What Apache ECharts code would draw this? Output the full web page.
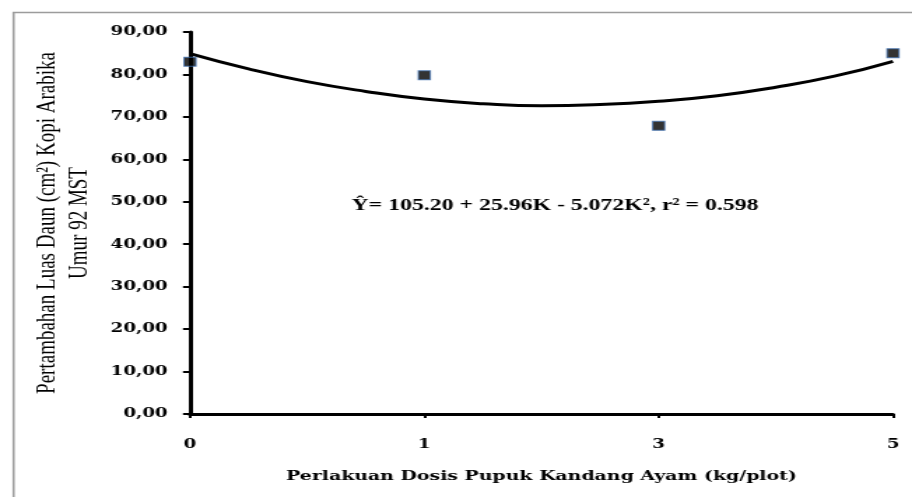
<!DOCTYPE html>
<html>
<head>
<meta charset="utf-8">
<script src="https://cdn.jsdelivr.net/npm/echarts@6.0.0/dist/echarts.min.js"></script>
<style>
  html, body { margin: 0; padding: 0; background: #fff; overflow: hidden; }
  /* the source picture is stretched sideways, so the chart is drawn narrow and widened */
  #main { width: 652px; height: 497px; transform: scaleX(1.3988); transform-origin: 0 0; }
</style>
</head>
<body>
<div id="main"></div>
<script>
// dosis pupuk (kg/plot), evenly spaced on the axis
var doses = ['0', '1', '3', '5'];
// observed leaf area increase
var observed = [83.0, 79.8, 67.9, 85.0];
// quadratic trend line (x = position index of dose)
var trendX = [0, 0.25, 0.5, 0.75, 1.0, 1.25, 1.5, 1.75, 2.0, 2.25, 2.5, 2.75, 3.0];
var trendY = [84.9, 81.3, 78.3, 76.0, 74.2, 73.1, 72.6, 72.9, 73.7, 75.0, 77.0, 79.6, 83.1];
var yTicks = [0, 90, 10]; // min, max, step
var equation = 'Ŷ= 105.20 + 25.96K - 5.072K², r² = 0.598';

var chart = echarts.init(document.getElementById('main'));

var pts = [];
for (var i = 0; i < observed.length; i++) pts.push([i, observed[i]]);
var trend = [];
for (var j = 0; j < trendX.length; j++) trend.push([trendX[j], trendY[j]]);

var option = {
  animation: false,
  grid: { left: 135.8, right: 13.6, top: 32, bottom: 83 },
  xAxis: {
    type: 'value',
    min: 0, max: doses.length - 1, interval: 1,
    name: 'Perlakuan Dosis Pupuk Kandang Ayam (kg/plot)',
    nameLocation: 'middle',
    nameGap: 55,
    nameTextStyle: { fontFamily: 'DejaVu Serif', fontWeight: 'bold', fontSize: 13.5, color: '#000' },
    axisLine: { lineStyle: { color: '#000', width: 3 } },
    axisTick: { length: 4, lineStyle: { color: '#000', width: 2 } },
    axisLabel: {
      margin: 24,
      fontFamily: 'DejaVu Serif', fontWeight: 'bold', fontSize: 13, color: '#000',
      formatter: function (v) { return doses[Math.round(v)]; }
    },
    splitLine: { show: false }
  },
  yAxis: {
    type: 'value',
    min: yTicks[0], max: yTicks[1], interval: yTicks[2],
    name: 'Pertambahan Luas Daun (cm²) Kopi Arabika\nUmur 92 MST',
    nameLocation: 'middle',
    nameRotate: 90,
    nameGap: 55,
    nameTextStyle: { fontFamily: 'Liberation Serif', fontSize: 19, lineHeight: 23, color: '#000', align: 'center' },
    axisLine: { show: true, lineStyle: { color: '#000', width: 3 } },
    axisTick: { show: true, length: 5, lineStyle: { color: '#000', width: 2 } },
    axisLabel: {
      margin: 16,
      fontFamily: 'DejaVu Serif', fontWeight: 'bold', fontSize: 13, color: '#000',
      formatter: function (v) { return v.toFixed(2).replace('.', ','); }
    },
    splitLine: { show: false }
  },
  series: [
    {
      type: 'line',
      data: trend,
      smooth: true,
      symbol: 'none',
      lineStyle: { color: '#000', width: 3 },
      z: 2
    },
    {
      type: 'scatter',
      data: pts,
      symbol: 'rect',
      symbolSize: [8.6, 9],
      itemStyle: { color: '#000', borderColor: '#3f6fb0', borderWidth: 1 },
      z: 3
    }
  ],
  graphic: [
    { // outer frame of the chart
      type: 'rect', left: 7.2, top: 10,
      shape: { width: 700, height: 520 },
      style: { fill: 'none', stroke: '#9c9c9c', lineWidth: 1.6 },
      silent: true
    },
    {
      type: 'text', x: 396.8, y: 206,
      style: {
        text: equation, fill: '#000', align: 'center', verticalAlign: 'middle',
        font: 'bold 17px "Liberation Serif"'
      }
    }
  ]
};
chart.setOption(option);
</script>
</body>
</html>
